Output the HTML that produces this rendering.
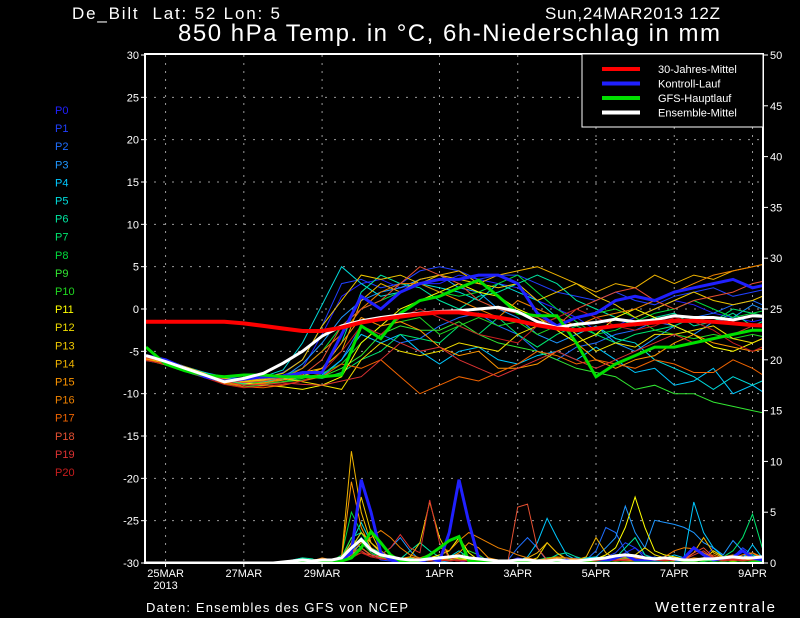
<!DOCTYPE html>
<html><head><meta charset="utf-8"><style>
html,body{margin:0;padding:0;background:#000;}
svg{display:block;font-family:"Liberation Sans",sans-serif;}
</style></head><body>
<svg id="chart" width="800" height="618" viewBox="0 0 800 618">
<rect x="0" y="0" width="800" height="618" fill="#000"/>
<text x="72" y="19" fill="#fff" font-size="17" textLength="208" lengthAdjust="spacing" xml:space="preserve">De_Bilt  Lat: 52 Lon: 5</text>
<text x="545" y="19" fill="#fff" font-size="17" textLength="175">Sun,24MAR2013 12Z</text>
<text x="178" y="41" fill="#fff" font-size="24" textLength="542">850 hPa Temp. in °C, 6h-Niederschlag in mm</text>
<g id="grid"></g>
<g id="plot" clip-path="url(#clip)"></g>
<defs><clipPath id="clip"><rect x="146" y="55" width="616" height="507"/></clipPath></defs>
<g id="axes"></g>
<g id="labels"></g>
<g id="legend"></g>
<text x="146" y="612" fill="#fff" font-size="13" textLength="262">Daten: Ensembles des GFS von NCEP</text>
<text x="655" y="612" fill="#fff" font-size="15" textLength="120">Wetterzentrale</text>
</svg>
<script>
const tempTicks=[30,25,20,15,10,5,0,-5,-10,-15,-20,-25,-30];
const precTicks=[50,45,40,35,30,25,20,15,10,5,0];
const dateLabels=["25MAR","27MAR","29MAR","1APR","3APR","5APR","7APR","9APR"];
const dateDays=[0.5,2.5,4.5,7.5,9.5,11.5,13.5,15.5];
const memberColors=["#2020ff","#2040ff","#1e6eff","#1e96ff","#00c8ff","#00dcdc","#00e6a0","#00e66e","#00dc3c","#32e632","#20d820","#ffff00","#f0dc00","#f0c800","#f0b400","#ff9600","#f08200","#f06400","#e65032","#dc3232","#c81e1e"];
const climate=[-1.5,-1.5,-1.5,-1.5,-1.5,-1.7,-2,-2.3,-2.6,-2.6,-2.2,-1.6,-1.2,-0.9,-0.6,-0.4,-0.4,-0.7,-1,-1.4,-1.9,-2.3,-2.5,-2.3,-2,-1.8,-1.6,-1.4,-1.4,-1.5,-1.7,-1.9,-2];
const ensMean=[-5.5,-6.2,-7,-7.8,-8.6,-8.2,-7.6,-6.4,-5,-3.2,-2,-1.4,-1,-0.7,-0.5,-0.3,-0.2,0,0.2,-0.3,-1.5,-2.2,-1.8,-1.6,-1.2,-1.5,-1.3,-0.8,-1,-1,-1.3,-0.8,-0.9];
const control=[-5.5,-6,-7,-8,-8.5,-8.3,-8,-8,-7.5,-7.5,-3,1.5,0,2,3,3.5,3.5,4,4,3,-0.5,-2,-1,-0.5,1,1.5,1,2,2.5,3,3.5,2.5,3];
const gfs=[-4.5,-6.5,-7.3,-7.8,-8,-7.8,-7.8,-8,-8,-8,-7.8,-2,-3.5,-0.5,1,1.5,2.5,3.4,1.5,-0.5,-0.8,-0.8,-4,-8,-6.5,-5.5,-4.5,-4.5,-4,-3.5,-3,-2.5,-2.5];
const members=[
[-5.8,-6.2,-7,-8,-8.6,-8.4,-8,-7.8,-7,-3,1.5,3,3.5,2.5,3,3,4,3.5,3,2.5,1,0,-1,-2.5,-2,-1,0,1,0.5,-0.5,-1,-1.5,-1],
[-5.6,-6.4,-7.1,-7.7,-8.4,-8.8,-8.2,-7.5,-6,-2,3,3.5,2.5,3,4.5,5,4.5,3.5,4,4,3,2,1.5,1,2,1,0.5,1.5,2,2.5,1.5,2,2.5],
[-5.9,-6.1,-7.2,-7.9,-8.1,-8.2,-8,-7.9,-7.8,-8,-6,-2,-3,-4,-3.5,-2,-1,-0.5,-2,-3,-5,-6,-4.5,-4,-3,-2.5,-1.5,-2,-1,-0.5,0.5,1,0],
[-6,-6.3,-7,-7.5,-8,-8.7,-8.4,-8.1,-6.5,-4,-1,1,2,2.5,3.5,4,2.5,2,0,-1,-3,-4,-3,-2,-4,-5,-3.5,-2,-3,-1.5,-1,0.5,-0.5],
[-6.1,-6.5,-7.3,-8,-8.6,-8.9,-8.5,-8.2,-8,-7.8,-6,-3,-4,-3,-5,-6.5,-5,-4.5,-6,-6.5,-5.5,-5,-6,-4.5,-6,-7.5,-7,-9,-8.5,-7,-10,-9,-10.5],
[-5.5,-6,-6.8,-7.5,-8.2,-8.5,-8,-7.2,-4,0.5,5,3,1.5,2,3,2.5,2,1,3,2,1,-1,-3,-2,-3.5,-4,-6,-7,-8,-9.5,-8,-9,-8],
[-5.7,-6.2,-7,-7.8,-8.5,-8.8,-8.6,-8.3,-7.9,-7,-4,2,4,3,2.5,1,0,1.5,2,3,4,3,1,0,-1,-2,-1,-0.5,-2,-1.5,-0.5,-2,-1],
[-6,-6.6,-7.4,-8.1,-8.4,-8.9,-8.8,-8.6,-8,-8.2,-7.5,-6,-5,-3,-3.5,-4,-2,-3,-1,-3,-4.5,-3,-2,-3,-4,-3,-2.5,-2,-1,-1.5,0,-0.5,-1],
[-5.8,-6.4,-7.2,-7.9,-8.7,-9,-8.5,-8,-7,-5,-2,0,1,2,3,2,1.5,2,3,4,2,0,-1.5,-3,-2.5,-1.5,-0.5,0,1,0,-1,-0.5,0],
[-5.6,-6.3,-7.1,-8,-8.8,-9.2,-9,-8.6,-8.4,-8,-7,-5.5,-3,-2,-2.5,-2.5,-1.5,-3,-4,-4.5,-5,-6,-7,-7.5,-8,-9.5,-9,-10,-10,-11,-11.5,-12,-12.5],
[-5.9,-6.5,-7,-7.6,-8.2,-8.5,-8.8,-8.6,-8.2,-7.6,-6.5,-4,-2,-1.5,-1,-3,-2,-1,-2,-1.5,-3,-2,-1,-0.5,0,-1,-2.5,-3,-3.5,-3,-3.5,-3,-3.5],
[-5.7,-6.2,-7.1,-7.8,-8.4,-8.7,-9,-9.2,-9.5,-9,-8,-4,-2,0,1,2,3,2,1.5,0,-1,-2.5,-4,-3,-1,0,-1,-2,-3,-4.5,-5,-4,-3],
[-5.8,-6.4,-7.2,-7.9,-8.5,-8.6,-8.4,-8.2,-8.6,-9,-9.5,-6,-4,-5,-5.5,-5,-4,-4.5,-5,-3,-2,-1,-3,-5,-4,-4.5,-3,-3,-2.5,-2,-3.5,-4,-3],
[-5.6,-6.1,-7,-7.7,-8.2,-8.6,-8.1,-7.6,-6,-2,1,4,3.5,4,3,4,3.5,3,2.5,3,1,2,3,1.5,0.5,-1,0,1,2,1,0.5,1,2],
[-5.5,-6,-6.8,-7.6,-8.3,-8.5,-8.3,-8,-7.5,-7,-5,1,3,2,3.5,4,4.5,3,4,4.5,5,4,3,2,3,2.5,4,3,4,3.5,4.5,5,5.5],
[-5.9,-6.5,-7.3,-8,-8.8,-9,-8.7,-8.4,-8,-7,-4,-1,-2,-1.5,-2.5,-4.5,-5.5,-5,-7,-7,-6.5,-5,-4,-6,-7,-6,-5.5,-4,-3,-4,-4.5,-5,-4.5],
[-5.7,-6.3,-7.2,-7.9,-8.6,-9,-8.8,-8.2,-7,-5,-3,0,2,3,3,2,1,0,-1,1,0,-1,-2,-1,-0.5,0,1,2,3,4,4.5,5,5.5],
[-6,-6.6,-7.3,-8,-8.7,-9.2,-9.3,-9,-8.5,-8,-6.5,-7,-6,-8,-10,-9,-8,-8.5,-7.5,-6.5,-5,-5.5,-6.5,-6,-6.5,-7,-6,-6.5,-7.5,-7.5,-6,-7,-8.5],
[-5.8,-6.2,-7,-7.7,-8.3,-8.7,-8.5,-8.1,-7.8,-6,-2,0,1,3,5,4,3,1,0,-0.5,-1,-2,0,1,2,2.5,1,0,1,1.5,2,3,3.5],
[-5.6,-6.4,-7.2,-7.8,-8.5,-9,-8.9,-8.7,-8.9,-9,-8.5,-8,-6,-4,-5,-4.5,-6,-7,-8,-7,-6,-5,-6,-7,-6,-5,-4,-3,-4,-3.5,-3,-2,-1.5],
[-6.1,-6.5,-7.3,-8.1,-8.9,-9.3,-9.1,-8.9,-8.5,-7.5,-5,-2,-3,-1,0,-1,-2,-3,-3.5,-4,-2,-1,0,-1,-2,-2.5,-2,-1,-1.5,-2.5,-4,-5,-4]
];
const precMean=[0,0,0,0,0,0,0,0, 0,0,0,0,0,0,0.1,0.2, 0.3,0.2,0.3,0.3,0.5,1.5,2.3,1.3, 0.8,0.6,0.4,0.3,0.3,0.4,0.5,0.6, 0.7,0.5,0.4,0.3,0.2,0.2,0.3,0.3, 0.2,0.2,0.3,0.2,0.2,0.3,0.4,0.5, 0.7,0.8,0.7,0.5,0.4,0.5,0.4,0.3, 0.3,0.4,0.4,0.5,0.6,0.5,0.5,0.6];
const precControl=[0,0,0,0,0,0,0,0, 0,0,0,0,0,0,0,0, 0,0,0,0,0.3,1,8.2,5, 1,0.3,0.2,0,0,0.5,0.2,3, 8.2,4,0.5,0.2,0,0,0,0, 0,0,0.2,0.3,0,0,0,0.2, 0.5,0.8,0.3,0.2,0.1,0,0,0.5, 1.5,0.8,0.3,0.5,0.6,1.2,0.5,0.3];
const precGfs=[0,0,0,0,0,0,0,0, 0,0,0,0,0,0,0,0, 0,0,0,0,0.2,0.5,1.5,3.1, 2,0.8,0.2,0,0.3,0.8,1.5,2.2, 2.6,0.2,0.1,0.1,0.1,0,0,0, 0,0,0.1,0.1,0,0,0,0, 0,0,0,0,0,0,0,0, 0,0,0,0,0,0,0,0];
const precMembers=[
[0,0,0,0,0,0,0,0, 0,0,0,0,0,0,0,0, 0,0,0.2,0.3,0.5,2,1.5,0.8, 0.5,0.3,0.2,0,0.2,0.5,0.3,0.2, 0.5,0.3,0,0,0,0.2,0.5,0.3, 0.2,0,0,0.3,0.5,0.2,0,0, 0.5,1,1.5,0.8,0.5,0.3,0,0.2, 0.3,0.5,1.5,0.6,0.2,0.5,1,0.3],
[0,0,0,0,0,0,0,0, 0,0,0,0,0,0,0,0.3, 0.5,0.2,0,0,0.4,1.2,2.5,1, 0.3,0.2,0,0,0.3,0.4,0.2,0.3, 0.2,0,0,0,0,0,0.4,0.3, 0.2,0.4,0.5,0.2,0,0,0.3,0.6, 1,2,1.5,0.5,0.3,0.2,0.5,0.4, 0.3,0.2,0.5,0.4,0.6,1.5,0.8,0.4],
[0,0,0,0,0,0,0,0, 0,0,0,0,0,0,0,0, 0,0,0,0.2,0.3,1,2.5,1.5, 0.6,0.3,0.2,0.4,0.3,0.2,0.5,0.4, 0.3,0.2,0.3,0.5,0.2,0.3,1.5,2.5, 1.5,0.2,0.1,0.3,0.5,0.3,1.2,3.5, 3,1.2,0.4,0.3,0.6,0.3,0.2,0.3, 0.2,0.5,0.4,0.2,0.3,0.8,0.5,0.3],
[0,0,0,0,0,0,0,0, 0,0,0,0,0,0,0,0, 0,0,0,0.1,0.2,0.8,2,1.2, 0.8,1.5,2.5,1.2,0.3,0.2,0.1,0.2, 0.4,0.3,0.2,0.2,0.2,0.1,0.2,0.3, 0.2,0.2,0.3,0.2,0.3,0.4,0.6,1.5, 2.5,5.6,3,1.5,4.2,4,3.8,3.5, 3,2,1.5,0.8,2.2,1.2,0.6,0.4],
[0,0,0,0,0,0,0,0, 0,0,0,0,0,0,0,0, 0,0,0,0,0.3,1.5,3,1.5, 0.8,0.5,0.3,0.2,0.2,0.3,0.2,0.2, 0.3,0.2,0.5,0.3,0.2,0.3,0.2,0.6, 2,4.4,2.5,0.8,0.3,0.3,0.2,0.2, 0.3,0.5,0.3,0.6,0.3,0.4,0.8,0.5, 6,3,1.5,0.6,0.5,0.4,1.8,0.5],
[0,0,0,0,0,0,0,0, 0,0,0,0,0,0,0,0.2, 0.4,0.2,0,0.2,0.5,2,4,2, 1,0.4,0.2,0.3,0.4,0.2,0.3,0.6, 1.2,0.5,0.3,0.2,0.2,0.2,0.3,0.2, 0.2,0.3,0.2,0.2,0.3,0.5,0.6,0.4, 0.3,0.2,0.3,0.4,0.5,0.3,0.2,0.4, 0.3,0.2,0.3,0.2,0.5,0.4,0.3,0.2],
[0,0,0,0,0,0,0,0, 0,0,0,0,0,0,0,0.3, 0.5,0.4,0,0,0.6,2.5,3,1.5, 1,0.6,0.4,1.2,2,1.2,0.6,0.3, 0.5,0.4,0.2,0.2,0.3,0.2,0.3,0.2, 0.2,0.3,0.8,1,0.6,0.3,0.2,0.3, 0.5,1.5,2.5,0.8,0.4,0.3,0.2,0.3, 0.2,0.3,0.4,0.5,0.3,0.5,0.8,0.4],
[0,0,0,0,0,0,0,0, 0,0,0,0,0,0,0,0.2, 0.4,0.3,0,0.2,0.5,1.5,2.5,1.2, 0.6,0.3,0.2,0.5,0.3,0.2,0.3,0.4, 0.5,0.3,0.2,0.2,0.2,0.3,0.2,0.2, 0.3,0.5,0.3,0.2,0.3,0.2,0.3,0.6, 0.5,0.4,0.3,0.5,0.4,0.3,0.2,0.3, 0.4,0.3,0.5,0.6,1.2,2.5,4.8,1.5],
[0,0,0,0,0,0,0,0, 0,0,0,0,0,0,0,0, 0,0.2,0.3,0.2,0.8,5,3,1.5, 0.8,0.4,0.3,0.2,0.3,0.2,0.2,0.3, 0.4,0.2,0.2,0.2,0.2,0.2,0.2,0.2, 0.2,0.2,0.3,0.2,0.2,0.2,0.3,0.2, 0.3,0.4,0.3,0.2,0.3,0.2,0.3,0.2, 0.2,0.3,0.2,0.3,0.4,0.3,0.2,0.2],
[0,0,0,0,0,0,0,0, 0,0,0,0,0,0,0,0, 0,0,0,0.2,0.5,2.5,1.5,0.8, 0.5,0.3,0.4,0.2,0.2,0.3,0.5,0.3, 0.6,1.2,0.8,0.2,0.2,0.3,0.2,0.2, 0.2,0.5,0.6,0.3,0.2,0.2,0.3,0.5, 0.8,0.5,0.4,0.3,0.3,0.2,0.3,0.4, 0.3,0.2,0.5,0.3,0.2,0.3,0.4,0.3],
[0,0,0,0,0,0,0,0, 0,0,0,0,0,0,0,0, 0,0,0,0,0.3,1,2,1, 0.6,0.4,0.3,0.2,0.2,0.3,0.2,0.3, 0.5,0.3,0.2,0.2,0.2,0.2,0.2,0.3, 0.2,0.2,0.2,0.2,0.3,0.2,0.2,0.3, 0.5,0.4,0.3,0.2,0.2,0.3,0.2,0.3, 0.2,0.3,0.4,0.3,0.2,0.3,0.2,0.3],
[0,0,0,0,0,0,0,0, 0,0,0,0,0,0,0,0, 0,0,0,0,0.2,0.8,1.5,0.8, 0.5,0.3,0.2,0.3,0.4,0.5,0.8,1.2, 2.5,1,0.3,0.2,0.2,0.3,0.2,0.2, 0.2,0.2,0.2,0.2,0.3,0.2,0.4,0.8, 1.5,3.5,6.5,3.5,1.2,0.8,0.6,0.4, 0.3,0.4,0.6,0.4,0.3,0.4,0.3,0.3],
[0,0,0,0,0,0,0,0, 0,0,0,0,0,0,0,0, 0,0,0.2,0.3,0.4,1.5,3,2, 1.2,0.5,0.3,0.2,0.2,0.4,0.2,0.3, 0.6,0.3,0.2,0.2,0.2,0.3,0.2,0.2, 0.5,2,1,0.3,0.2,0.3,0.4,0.3, 0.5,0.6,0.8,1.5,0.8,0.5,0.3,0.3, 0.4,0.3,1.2,0.6,0.4,0.3,0.4,0.5],
[0,0,0,0,0,0,0,0, 0,0,0,0,0,0,0,0, 0,0,0,0,0.5,2,6.5,3, 1,0.5,0.4,0.6,2,6,2.5,0.6, 0.4,0.3,0.2,0.2,0.2,0.2,0.3,0.2, 0.2,0.3,0.2,0.2,0.3,0.2,0.3,0.2, 0.3,0.4,0.3,0.2,0.3,0.4,0.3,0.2, 0.2,0.3,0.4,0.3,0.2,0.3,0.4,0.3],
[0,0,0,0,0,0,0,0, 0,0,0,0,0,0,0,0, 0,0,0,0.2,0.6,11,5,2, 1,0.6,0.4,0.3,0.2,0.3,0.5,0.6, 0.8,0.4,0.3,0.3,0.2,0.3,0.2,0.5, 1,2,1,0.4,0.3,0.6,2.5,1, 0.4,0.3,0.2,0.3,0.5,0.3,0.2,0.3, 1,2.5,1,0.5,0.4,0.6,0.5,0.4],
[0,0,0,0,0,0,0,0, 0,0,0,0,0,0,0,0, 0,0,0,0.3,0.5,8,3.5,1.5, 0.8,0.5,0.4,0.6,0.4,0.3,0.2,0.5, 1,2,1.5,0.5,0.3,0.2,0.4,0.3, 0.2,0.3,0.5,0.3,0.4,0.3,0.2,0.3, 0.6,0.8,0.5,0.4,0.3,0.4,0.5,0.3, 0.5,0.4,0.3,0.6,0.8,0.5,1,0.4],
[0,0,0,0,0,0,0,0, 0,0,0,0,0,0,0,0, 0,0.2,0.5,0.3,0.4,1,2,2.5, 3.2,2.5,1.5,0.8,0.5,0.8,1.5,1.2, 2.2,3,2.5,2,1.5,1.2,0.8,0.5, 0.3,0.4,0.6,0.5,0.4,0.3,0.2,0.3, 0.4,0.6,0.5,0.4,0.3,0.6,1.2,1.5, 1.4,1,0.5,0.4,0.5,0.8,1,0.6],
[0,0,0,0,0,0,0,0, 0,0,0,0,0,0,0,0, 0,0.3,0.4,0.2,0.3,0.6,1,0.8, 0.5,0.3,0.2,0.3,0.2,0.3,0.4,0.3, 0.2,0.2,0.3,0.2,0.2,0.3,0.2,0.2, 0.2,0.3,0.2,0.2,0.3,0.2,0.3,0.2, 0.3,0.4,0.3,0.2,0.3,0.2,0.3,0.2, 0.2,0.5,0.8,0.4,0.3,0.4,0.6,0.3],
[0,0,0,0,0,0,0,0, 0,0,0,0,0,0,0,0, 0,0,0,0.2,0.3,1,1.5,0.8, 0.5,0.3,0.2,0.3,0.5,0.4,0.3,0.2, 0.3,0.2,0.2,0.2,0.3,0.2,5.5,5.8, 1.5,0.3,0.2,0.3,0.2,0.3,0.2,0.2, 0.3,0.4,0.3,0.2,0.5,0.3,0.2,0.4, 1,1.5,0.6,0.4,0.3,0.5,0.4,0.3],
[0,0,0,0,0,0,0,0, 0,0,0,0,0,0,0,0, 0,0,0,0.2,0.4,0.8,1.2,0.6, 0.8,1.5,2.8,1.5,1,6.2,2,0.5, 0.3,0.2,0.2,0.3,0.2,0.2,0.3,0.2, 0.2,0.2,0.3,0.2,0.2,0.3,0.2,0.3, 0.2,0.3,0.4,0.3,0.2,0.3,0.4,0.3, 0.8,1.2,0.5,0.3,0.4,0.3,0.5,0.4],
[0,0,0,0,0,0,0,0, 0,0,0,0,0,0,0,0, 0,0,0,0,0.2,0.5,1,0.6, 0.4,0.3,0.2,0.2,0.3,0.2,0.2,0.3, 0.2,0.2,0.2,0.2,0.2,0.2,0.3,0.2, 0.2,0.2,0.2,0.2,0.2,0.3,0.2,0.2, 0.3,0.2,0.2,0.3,0.2,0.2,0.3,0.2, 0.3,0.4,0.3,0.2,0.3,0.2,0.3,0.3]
];
const legendNames=["30-Jahres-Mittel","Kontroll-Lauf","GFS-Hauptlauf","Ensemble-Mittel"];
const legendColors=["#ff0000","#2020ff","#00e000","#ffffff"];

const NS="http://www.w3.org/2000/svg";
const X0=146, DAYPX=39.13, TOP=55, BOT=563, RIGHT=763;
function xDay(d){return X0+d*DAYPX;}
function yT(v){return BOT-(v+30)*(BOT-TOP)/60;}
function yP(v){return BOT-v*(BOT-TOP)/50;}
function mk(tag,attrs,parent){const e=document.createElementNS(NS,tag);for(const k in attrs)e.setAttribute(k,attrs[k]);parent.appendChild(e);return e;}
const grid=document.getElementById('grid'),plot=document.getElementById('plot'),axes=document.getElementById('axes'),labels=document.getElementById('labels'),legend=document.getElementById('legend');

tempTicks.forEach(t=>{
  if(t>-30&&t<30){const l=mk('line',{x1:146,x2:RIGHT,y1:yT(t),y2:yT(t),stroke:'#9a9a9a','stroke-width':1,'stroke-dasharray':'1 7 1 0'},grid);
  
  }
  const tk=mk('line',{x1:141,x2:146,y1:yT(t),y2:yT(t),stroke:'#fff','stroke-width':1},axes);
  
  
  const tx=mk('text',{x:139,y:yT(t)+4,fill:'#fff','font-size':11,'text-anchor':'end'},axes);
  
  
  tx.textContent=t;
});
precTicks.forEach(p=>{
  const tk=mk('line',{x1:RIGHT,x2:RIGHT+5,y1:yP(p),y2:yP(p),stroke:'#fff','stroke-width':1},axes);
  
  
  const tx=mk('text',{x:770,y:yP(p)+4,fill:'#fff','font-size':11},axes);
  
  
  tx.textContent=p;
});
dateLabels.forEach((lab,i)=>{
  const x=xDay(dateDays[i]);
  const l=mk('line',{x1:x,x2:x,y1:TOP,y2:BOT,stroke:'#9a9a9a','stroke-width':1,'stroke-dasharray':'2 6'},grid);
  
  
  const tk=mk('line',{x1:x,x2:x,y1:BOT,y2:BOT+4,stroke:'#fff','stroke-width':1},axes);
  
  
  const tx=mk('text',{x:x,y:577,fill:'#fff','font-size':11,'text-anchor':'middle'},axes);
  
  
  tx.textContent=lab;
});
const yr=mk('text',{x:xDay(dateDays[0]),y:589,fill:'#fff','font-size':11,'text-anchor':'middle'},axes);


yr.textContent="2013";

function tempPath(arr){return arr.map((v,i)=>(i?'L':'M')+xDay(i*0.5).toFixed(1)+' '+yT(v).toFixed(1)).join(' ');}
function precPath(arr){return arr.map((v,i)=>(i?'L':'M')+xDay(i*0.25).toFixed(1)+' '+yP(v).toFixed(1)).join(' ');}

members.forEach((m,k)=>{
  const p=mk('path',{d:tempPath(m),fill:'none',stroke:memberColors[k],'stroke-width':1},plot);
  
  
});
precMembers.forEach((m,k)=>{
  const p=mk('path',{d:precPath(m),fill:'none',stroke:memberColors[k],'stroke-width':1},plot);
  
  
});
const pc=mk('path',{d:precPath(precControl),fill:'none',stroke:'#2020ff','stroke-width':3},plot);


const pg=mk('path',{d:precPath(precGfs),fill:'none',stroke:'#00e000','stroke-width':3},plot);


const pm=mk('path',{d:precPath(precMean),fill:'none',stroke:'#fff','stroke-width':3},plot);


const lc=mk('path',{d:tempPath(control),fill:'none',stroke:'#2020ff','stroke-width':3},plot);


const lg=mk('path',{d:tempPath(gfs),fill:'none',stroke:'#00e000','stroke-width':3},plot);


const lm=mk('path',{d:tempPath(ensMean),fill:'none',stroke:'#fff','stroke-width':3},plot);


const lcl=mk('path',{d:tempPath(climate),fill:'none',stroke:'#ff0000','stroke-width':4},plot);



const frame=mk('rect',{x:145,y:54,width:RIGHT-145,height:BOT-54,fill:'none',stroke:'#fff','stroke-width':2},axes);



memberColors.forEach((c,k)=>{
  const t=mk('text',{x:55,y:114+k*18.1,fill:c,'font-size':11},labels);
  
  
  t.textContent='P'+k;
});

const lb=mk('rect',{x:582,y:54,width:RIGHT-582,height:73,fill:'#000',stroke:'#fff','stroke-width':1},legend);


legendNames.forEach((n,k)=>{
  const y=69+k*14.5;
  const l=mk('line',{x1:602,x2:640,y1:y,y2:y,stroke:legendColors[k],'stroke-width':4},legend);
  
  
  const t=mk('text',{x:658,y:y+4,fill:'#fff','font-size':11},legend);
  
  
  t.textContent=n;
});
</script>
</body></html>
